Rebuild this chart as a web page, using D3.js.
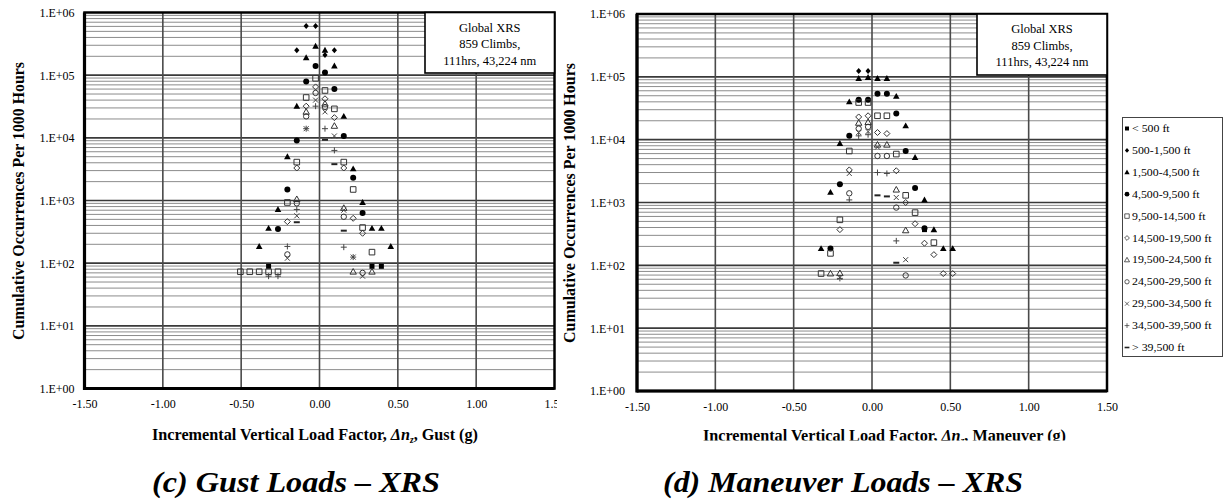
<!DOCTYPE html>
<html>
<head>
<meta charset="utf-8">
<script src="https://cdn.jsdelivr.net/npm/d3@7"></script>
<style>
  html, body { margin: 0; padding: 0; background: #fff; }
  svg { display: block; }
  text { font-family: "Liberation Serif", "Times New Roman", serif; fill: #000; }
</style>
</head>
<body>
<svg id="fig" width="1225" height="499"></svg>
<script>
// ---------- axis ticks and labels ----------
const loadFactorTicks = [-1.5, -1.0, -0.5, 0.0, 0.5, 1.0, 1.5];
const occurrenceTicks = [1, 10, 100, 1000, 1e4, 1e5, 1e6];
const altitudeBands = [
  "< 500 ft", "500-1,500 ft", "1,500-4,500 ft", "4,500-9,500 ft",
  "9,500-14,500 ft", "14,500-19,500 ft", "19,500-24,500 ft",
  "24,500-29,500 ft", "29,500-34,500 ft", "34,500-39,500 ft", "> 39,500 ft"
];
const markerKinds = [
  "squareFilled", "diamondFilled", "triangleFilled", "circleFilled",
  "squareOpen", "diamondOpen", "triangleOpen", "circleOpen",
  "cross", "plus", "dash"
];
const infoLines = ["Global XRS", "859 Climbs,", "111hrs, 43,224 nm"];

// ---------- gust loads: [Δnz (g), cumulative occurrences per 1000 h] ----------
const gustBelow500   = [[-0.325, 89], [0.335, 89], [0.395, 89]];
const gust500to1500  = [[-0.085, 6.1e5], [-0.025, 6.1e5], [-0.145, 2.5e5], [0.035, 2.1e5], [0.095, 2.5e5]];
const gust1500to4500 = [[-0.025, 2.9e5], [0.035, 2.5e5], [-0.085, 1.9e5], [0.095, 1.4e5], [-0.145, 3.2e4],
                        [0.155, 2.2e4], [-0.205, 5.0e3], [0.215, 3.2e3], [0.275, 930], [-0.265, 720],
                        [-0.325, 360], [0.335, 360], [0.395, 360], [-0.385, 185], [0.455, 185]];
const gust4500to9500 = [[-0.025, 1.4e5], [0.035, 1.1e5], [-0.085, 7.9e4], [0.095, 6.0e4], [0.155, 1.07e4],
                        [-0.145, 9.1e3], [0.215, 2.3e3], [-0.205, 1.5e3], [0.275, 630], [-0.265, 350]];
const gust9500to14500 = [[-0.025, 8.9e4], [0.035, 5.7e4], [-0.085, 4.4e4], [0.095, 2.9e4], [-0.145, 4.1e3],
                         [0.155, 4.1e3], [0.215, 1.5e3], [-0.205, 930], [0.275, 370], [0.335, 150],
                         [-0.265, 73], [-0.325, 73], [-0.385, 73], [-0.445, 73], [-0.505, 73]];
const gust14500to19500 = [[-0.025, 6.5e4], [0.035, 4.2e4], [-0.085, 3.2e4], [0.095, 2.1e4], [-0.145, 3.3e3],
                          [0.155, 3.3e3], [0.215, 520], [-0.205, 460], [0.275, 300]];
const gust19500to24500 = [[0.035, 3.5e4], [-0.085, 2.6e4], [0.095, 1.55e4], [-0.145, 1.05e3], [0.155, 760],
                          [0.215, 73], [0.335, 73]];
const gust24500to29500 = [[-0.025, 5.2e4], [0.035, 3.1e4], [-0.085, 2.2e4], [-0.145, 900], [0.155, 550],
                          [-0.205, 138], [0.275, 70]];
const gust29500to34500 = [[-0.025, 4.0e4], [0.035, 2.6e4], [-0.085, 1.4e4], [0.095, 1.07e4], [0.155, 700],
                          [-0.145, 570], [0.215, 125], [-0.205, 120], [0.275, 62]];
const gust34500to39500 = [[-0.025, 3.2e4], [-0.085, 1.4e4], [0.035, 1.4e4], [0.095, 6.3e3], [-0.145, 720],
                          [-0.205, 185], [0.155, 180], [0.215, 125], [-0.265, 62], [-0.325, 62]];
const gustAbove39500 = [[0.035, 9.3e3], [0.095, 3.8e3], [-0.145, 450], [0.155, 330]];

// ---------- maneuver loads: [Δnz (g), cumulative occurrences per 1000 h] ----------
const manBelow500   = [[0.335, 370]];
const man500to1500  = [[-0.085, 1.24e5], [-0.025, 1.24e5]];
const man1500to4500 = [[-0.085, 9.4e4], [-0.025, 9.8e4], [0.035, 9.4e4], [0.095, 9.4e4], [0.155, 4.9e4],
                       [-0.145, 4.0e4], [0.215, 1.66e4], [-0.205, 8.7e3], [0.275, 5.2e3], [-0.265, 1.45e3],
                       [0.335, 1.1e3], [0.395, 370], [-0.325, 185], [0.455, 185], [0.515, 185]];
const man4500to9500 = [[0.035, 5.4e4], [0.095, 5.4e4], [-0.085, 4.3e4], [-0.025, 4.3e4], [0.155, 2.6e4],
                       [-0.145, 1.15e4], [0.215, 6.6e3], [-0.205, 1.95e3], [0.275, 1.7e3], [0.335, 390],
                       [-0.265, 185]];
const man9500to14500 = [[-0.085, 3.9e4], [-0.025, 3.9e4], [0.035, 2.4e4], [0.095, 2.4e4], [-0.145, 6.6e3],
                        [0.155, 5.9e3], [0.215, 1.3e3], [0.275, 690], [-0.205, 530], [0.395, 230],
                        [-0.265, 155], [-0.325, 74]];
const man14500to19500 = [[-0.085, 2.3e4], [-0.025, 2.4e4], [0.035, 1.3e4], [0.095, 1.25e4], [-0.145, 3.3e3],
                         [0.155, 3.2e3], [0.215, 1.0e3], [0.275, 460], [-0.205, 370], [0.335, 225],
                         [0.395, 148], [0.455, 74], [0.515, 74]];
const man19500to24500 = [[-0.085, 1.85e4], [-0.025, 1.9e4], [0.035, 8.3e3], [0.095, 8.3e3], [0.155, 1.6e3],
                         [0.215, 360], [-0.205, 75], [-0.265, 74]];
const man24500to29500 = [[-0.085, 1.5e4], [-0.025, 1.6e4], [0.035, 5.5e3], [0.095, 5.5e3], [-0.145, 1.4e3],
                         [0.155, 830], [0.215, 69]];
const man29500to34500 = [[-0.085, 1.3e4], [-0.025, 1.35e4], [0.035, 7.6e3], [-0.145, 2.9e3], [0.155, 1.2e3],
                         [0.215, 123], [-0.205, 64]];
const man34500to39500 = [[-0.085, 1.15e4], [-0.025, 1.2e4], [0.035, 3.0e3], [0.095, 2.9e3], [-0.145, 1.1e3],
                         [0.155, 245], [-0.205, 62]];
const manAbove39500 = [[0.035, 1.3e3], [0.095, 1.25e3], [0.155, 110]];

const gustSeries = [gustBelow500, gust500to1500, gust1500to4500, gust4500to9500, gust9500to14500,
  gust14500to19500, gust19500to24500, gust24500to29500, gust29500to34500, gust34500to39500, gustAbove39500];
const maneuverSeries = [manBelow500, man500to1500, man1500to4500, man4500to9500, man9500to14500,
  man14500to19500, man19500to24500, man24500to29500, man29500to34500, man34500to39500, manAbove39500];

// ---------- marker shapes ----------
const markerShapes = {
  squareFilled:   "M-2.5,-2.5H2.5V2.5H-2.5Z",
  diamondFilled:  "M0,-3L2.6,0L0,3L-2.6,0Z",
  triangleFilled: "M0,-3.4L3.3,2.5L-3.3,2.5Z",
  circleFilled:   "M3,0A3,3 0 1,1 -3,0A3,3 0 1,1 3,0Z",
  squareOpen:     "M-2.8,-2.8H2.8V2.8H-2.8Z",
  diamondOpen:    "M0,-3L3,0L0,3L-3,0Z",
  triangleOpen:   "M0,-3.2L3.2,2.4L-3.2,2.4Z",
  circleOpen:     "M2.7,0A2.7,2.7 0 1,1 -2.7,0A2.7,2.7 0 1,1 2.7,0Z",
  cross:          "M-2.5,-2.5L2.5,2.5M2.5,-2.5L-2.5,2.5",
  plus:           "M-3,0H3M0,-3V3",
  dash:           "M-3,-1H3V1H-3Z"
};
function styleMarker(sel, kind) {
  if (kind.endsWith("Filled") || kind === "dash") {
    sel.attr("fill", kind === "dash" ? "#222" : "#000").attr("stroke", "none");
  } else if (kind.endsWith("Open")) {
    sel.attr("fill", "none").attr("stroke", "#333").attr("stroke-width", 1);
  } else {
    sel.attr("fill", "none").attr("stroke", "#444").attr("stroke-width", 1);
  }
}

const svg = d3.select("#fig");
const defs = svg.append("defs");
const fmtLoad = v => v.toFixed(2);

// ---------- one panel ----------
function drawPanel(opts) {
  const g = svg.append("g");
  if (opts.clipRight) {
    defs.append("clipPath").attr("id", opts.id + "-clip")
      .append("rect").attr("x", 0).attr("y", 0).attr("width", opts.clipRight).attr("height", 499);
    g.attr("clip-path", `url(#${opts.id}-clip)`);
  }
  const x = d3.scaleLinear().domain([-1.5, 1.5]).range([opts.left, opts.right]);
  const y = d3.scaleLog().domain([1, 1e6]).range([opts.bottom, opts.top]);

  // minor horizontal grid (2..9 within each decade)
  const minor = [];
  for (let d = 0; d < 6; d++) for (let k = 2; k <= 9; k++) minor.push(k * Math.pow(10, d));
  g.append("g").selectAll("line").data(minor).join("line")
    .attr("x1", opts.left).attr("x2", opts.right)
    .attr("y1", v => y(v)).attr("y2", v => y(v))
    .attr("stroke", "#8c8c8c").attr("stroke-width", 1);

  // decade lines
  g.append("g").selectAll("line").data(occurrenceTicks.slice(1, -1)).join("line")
    .attr("x1", opts.left).attr("x2", opts.right)
    .attr("y1", v => y(v)).attr("y2", v => y(v))
    .attr("stroke", "#3a3a3a").attr("stroke-width", 1.6);

  // vertical grid
  g.append("g").selectAll("line").data(loadFactorTicks.slice(1, -1)).join("line")
    .attr("x1", v => x(v)).attr("x2", v => x(v))
    .attr("y1", opts.top).attr("y2", opts.bottom)
    .attr("stroke", "#4a4a4a").attr("stroke-width", 1.6);

  // frame
  g.append("rect").attr("x", opts.left).attr("y", opts.top)
    .attr("width", opts.right - opts.left).attr("height", opts.bottom - opts.top)
    .attr("fill", "none").attr("stroke", "#000").attr("stroke-width", 2.5);
  g.append("line").attr("x1", opts.left).attr("x2", opts.left).attr("y1", opts.top).attr("y2", opts.bottom + 1.5)
    .attr("stroke", "#000").attr("stroke-width", 3.2);
  g.append("line").attr("x1", opts.left).attr("x2", opts.right).attr("y1", opts.bottom).attr("y2", opts.bottom)
    .attr("stroke", "#000").attr("stroke-width", 3.2);

  // axes (labels only)
  const yAxis = d3.axisLeft(y).tickValues(occurrenceTicks).tickSize(0).tickPadding(opts.yPad)
    .tickFormat(v => "1.E+" + String(Math.round(Math.log10(v))).padStart(2, "0"));
  const ya = g.append("g").attr("transform", `translate(${opts.left},0)`).call(yAxis);
  ya.select(".domain").remove();
  ya.selectAll("text").attr("font-family", "Liberation Serif").attr("font-size", 12).attr("fill", "#000");

  const xAxis = d3.axisBottom(x).tickValues(loadFactorTicks).tickSize(0).tickPadding(11)
    .tickFormat(fmtLoad);
  const xa = g.append("g").attr("transform", `translate(0,${opts.bottom})`).call(xAxis);
  xa.select(".domain").remove();
  xa.selectAll("text").attr("font-family", "Liberation Serif").attr("font-size", 12).attr("fill", "#000");

  // info box
  const bx = opts.boxLeft, bw = opts.right - opts.boxLeft;
  g.append("rect").attr("x", bx).attr("y", opts.top).attr("width", bw).attr("height", opts.boxBottom - opts.top)
    .attr("fill", "#fff").attr("stroke", "#000").attr("stroke-width", 1.6);
  g.append("g").selectAll("text").data(infoLines).join("text")
    .attr("x", bx + bw / 2).attr("y", (d, i) => opts.top + 19 + i * 16.5)
    .attr("text-anchor", "middle").attr("font-size", 12.5).text(d => d);

  // markers
  opts.series.forEach((pts, i) => {
    const kind = markerKinds[i];
    g.append("g").selectAll("path").data(pts).join("path")
      .attr("d", markerShapes[kind])
      .attr("transform", p => `translate(${x(p[0])},${y(p[1])})`)
      .call(styleMarker, kind);
  });

  // y title
  g.append("text")
    .attr("transform", `translate(${opts.yTitleX},${opts.yTitleY}) rotate(-90)`)
    .attr("text-anchor", "middle").attr("font-weight", "bold").attr("font-size", 17)
    .attr("textLength", opts.yTitleLen).attr("lengthAdjust", "spacingAndGlyphs")
    .text("Cumulative Occurrences Per 1000 Hours");

  // x title
  const xtG = svg.append("g");
  if (opts.xTitleClip) {
    defs.append("clipPath").attr("id", opts.id + "-xt")
      .append("rect").attr("x", 0).attr("y", 0).attr("width", 1225).attr("height", opts.xTitleClip);
    xtG.attr("clip-path", `url(#${opts.id}-xt)`);
  }
  const xt = xtG.append("text")
    .attr("x", opts.xTitleX).attr("y", opts.xTitleY)
    .attr("font-weight", "bold").attr("font-size", 17)
    .attr("textLength", opts.xTitleLen).attr("lengthAdjust", "spacingAndGlyphs");
  xt.append("tspan").text("Incremental Vertical Load Factor, ");
  xt.append("tspan").attr("font-style", "italic").text("Δn");
  xt.append("tspan").attr("font-style", "italic").attr("font-size", 10).attr("dy", 3).text("z");
  xt.append("tspan").attr("dy", -3).text(", " + opts.loadKind + " (g)");

  // caption
  svg.append("text").attr("x", opts.capX).attr("y", 492)
    .attr("font-weight", "bold").attr("font-style", "italic").attr("font-size", 29)
    .attr("textLength", opts.capLen).attr("lengthAdjust", "spacingAndGlyphs")
    .text(opts.caption);
}

drawPanel({
  id: "gust", series: gustSeries, loadKind: "Gust",
  left: 84.5, right: 554.5, top: 12.5, bottom: 388.5, clipRight: 557, yPad: 10,
  boxLeft: 425, boxBottom: 73,
  yTitleX: 24, yTitleY: 201, yTitleLen: 278,
  xTitleX: 152, xTitleY: 439.5, xTitleLen: 326,
  capX: 152, capLen: 288, caption: "(c) Gust Loads \u2013 XRS"
});
drawPanel({
  id: "man", series: maneuverSeries, loadKind: "Maneuver",
  left: 637, right: 1107, top: 14, bottom: 391, clipRight: null, yPad: 12,
  boxLeft: 977, boxBottom: 75,
  yTitleX: 575, yTitleY: 203, yTitleLen: 280,
  xTitleX: 703, xTitleY: 441, xTitleLen: 363, xTitleClip: 440.5,
  capX: 663, capLen: 360, caption: "(d) Maneuver Loads \u2013 XRS"
});

// ---------- legend ----------
const legend = svg.append("g");
legend.append("rect").attr("x", 1122.5).attr("y", 117.5).attr("width", 100).attr("height", 239)
  .attr("fill", "#fff").attr("stroke", "#444").attr("stroke-width", 1);
const items = legend.selectAll("g.item").data(altitudeBands).join("g")
  .attr("class", "item")
  .attr("transform", (d, i) => `translate(1127,${128.5 + i * 21.9})`);
items.append("path")
  .attr("d", (d, i) => markerShapes[markerKinds[i]])
  .attr("transform", "scale(0.8)")
  .each(function (d, i) { d3.select(this).call(styleMarker, markerKinds[i]); });
items.append("text").attr("x", 5).attr("y", 3.5).attr("font-size", 10.5).text(d => d)
  .each(function () {
    // labels are set slightly wide
    const w = this.getComputedTextLength();
    d3.select(this).attr("textLength", Math.min(w * 1.13, 89)).attr("lengthAdjust", "spacingAndGlyphs");
  });
</script>
</body>
</html>
